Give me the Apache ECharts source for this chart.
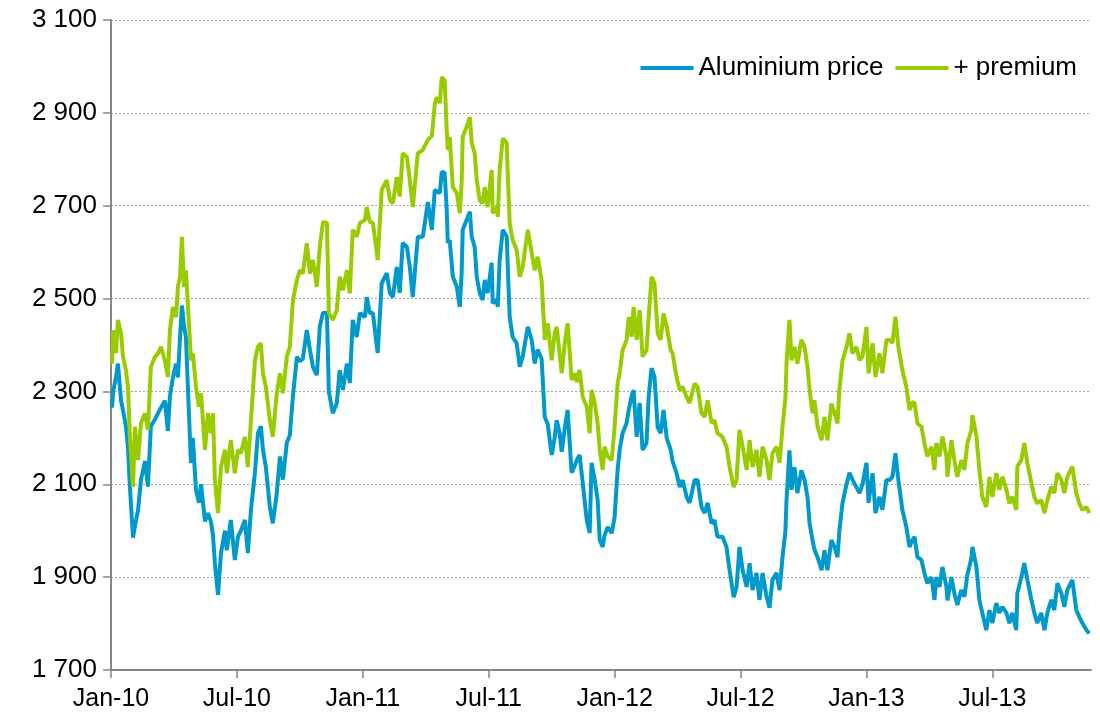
<!DOCTYPE html>
<html lang="en">
<head>
    <meta charset="UTF-8">
    <title>Aluminium price and premium</title>
    <script src="https://cdn.jsdelivr.net/npm/echarts@6/dist/echarts.min.js"></script>
    <style>
        html, body { margin: 0; padding: 0; background: #fff; }
        #chart { width: 1100px; height: 723px; }
    </style>
</head>
<body>
<div id="chart"></div>
<script>
    // x = months since Jan 2010 (0 = Jan-10, 6 = Jul-10 ...)
    const months = [
        0.05,0.10,0.24,0.33,0.48,0.57,0.71,0.81,0.90,1.05,1.14,1.29,1.43,1.62,1.76,1.90,2.10,2.24,2.38,2.57,
        2.71,2.81,2.95,3.10,3.19,3.29,3.38,3.48,3.57,3.67,3.81,3.90,4.05,4.19,4.29,4.48,4.62,4.76,4.86,4.95,
        5.10,5.24,5.43,5.52,5.71,5.90,6.05,6.19,6.38,6.52,6.67,6.86,7.00,7.14,7.24,7.38,7.57,7.71,
        7.90,8.05,8.19,8.38,8.52,8.67,8.86,9.00,9.14,9.33,9.48,9.62,9.81,9.95,10.10,10.29,10.38,10.57,10.76,10.90,
        11.05,11.24,11.38,11.52,11.71,11.86,12.10,12.19,12.33,12.48,12.67,12.71,12.90,13.14,13.29,13.43,13.62,13.76,13.90,14.10,
        14.24,14.38,14.62,14.86,15.10,15.29,15.43,
        15.52,15.67,15.76,15.90,16.00,16.05,16.14,16.29,16.48,16.62,16.71,16.76,16.95,17.10,17.19,17.33,17.43,17.57,17.71,17.81,
        17.95,18.14,18.19,18.38,18.43,18.52,18.67,18.86,18.90,19.00,19.14,19.33,19.48,19.62,19.86,20.05,20.19,20.33,20.52,20.67,
        20.81,21.00,21.14,21.24,21.38,21.48,21.62,21.76,21.95,22.10,
        22.19,22.33,22.48,22.67,22.81,22.90,23.05,23.19,23.29,23.43,
        23.52,23.67,23.86,24.00,24.14,24.24,24.38,24.57,24.67,24.81,
        24.90,25.05,25.19,25.33,25.52,25.62,25.76,25.90,26.05,26.19,
        26.33,26.48,26.67,26.76,26.95,27.10,27.24,27.43,27.57,27.81,
        27.95,28.14,28.29,28.43,28.62,28.76,28.90,29.14,29.33,29.48,
        29.67,29.81,29.95,30.10,30.29,30.43,30.57,30.76,30.90,31.05,
        31.24,31.38,31.52,31.71,31.86,32.00,32.14,32.19,32.33,32.43,
        32.57,32.71,32.90,33.05,33.19,33.29,33.43,33.52,33.67,33.86,
        34.00,34.14,34.33,34.48,34.62,34.71,34.86,35.05,35.19,35.33,
        35.52,35.67,35.81,36.00,36.10,36.29,36.43,36.62,36.76,36.95,
        37.10,37.24,37.38,37.52,37.71,37.90,38.05,38.19,38.29,38.43,
        38.62,38.76,38.90,39.10,39.24,39.33,39.48,39.62,39.81,39.86,
        40.05,40.19,40.33,40.52,40.67,40.81,41.00,41.05,41.24,41.38,
        41.52,41.71,41.86,42.00,42.19,42.33,42.48,42.67,42.81,42.95,
        43.14,43.19,43.38,43.52,43.67,43.86,44.00,44.14,44.33,44.48,
        44.62,44.81,44.95,45.10,45.29,45.43,45.57,45.81,46.00,46.14,
        46.29,46.48,46.62
    ];

    const aluminium = [
        2265,2300,2330,2360,2280,2260,2225,2180,2095,1985,2010,2045,2110,2150,2095,2225,2240,2253,2265,2280,
        2215,2290,2330,2360,2330,2417,2485,2440,2417,2303,2146,2200,2088,2060,2100,2020,2038,2020,1990,1930,
        1862,1952,2000,1958,2023,1937,1987,2000,2023,1952,2045,2125,2210,2225,2175,2137,2051,2016,
        2080,2160,2110,2190,2205,2290,2375,2365,2370,2432,2390,2353,2335,2440,2469,2469,2300,2253,2275,2346,
        2303,2360,2318,2454,2417,2469,2460,2503,2469,2469,2396,2383,2533,2555,2512,2503,2568,2512,2620,2611,
        2568,2503,2633,2633,2708,2648,2734,
        2734,2727,2773,2771,2690,2620,2626,2547,2525,2482,2555,2648,2670,2687,2633,2611,2547,2512,2497,2540,
        2512,2577,2490,2497,2482,2583,2648,2633,2577,2460,2417,2404,2353,2375,2439,2410,2360,2390,2370,2245,
        2230,2163,2200,2238,2210,2170,2220,2260,2125,2140,
        2152,2163,2103,2023,1995,2146,2110,2066,1980,1965,
        1990,2008,1995,2030,2130,2174,2210,2232,2260,2290,
        2303,2202,2275,2174,2189,2288,2350,2331,2223,2210,
        2260,2200,2174,2150,2124,2094,2109,2073,2060,2109,
        2109,2051,2038,2060,2016,2023,1987,1987,1965,1915,
        1857,1879,1965,1915,1879,1930,1872,1909,1851,1909,
        1858,1834,1894,1909,1872,1943,2000,2066,2173,2088,
        2137,2081,2130,2109,2073,2016,1980,1960,1943,1915,
        1958,1915,1980,1965,1943,2000,2060,2100,2125,2110,
        2094,2081,2100,2146,2060,2124,2038,2073,2045,2109,
        2109,2116,2167,2109,2045,2008,1965,1980,1987,1943,
        1937,1909,1887,1900,1851,1900,1879,1922,1879,1850,
        1900,1865,1840,1872,1858,1905,1940,1965,1922,1851,
        1823,1786,1829,1801,1844,1823,1836,1823,1801,1823,
        1786,1865,1900,1930,1894,1851,1823,1801,1823,1786,
        1823,1851,1829,1887,1865,1836,1872,1894,1829,1815,
        1801,1786,1779
    ];

    const premium = [
        2360,2432,2383,2454,2425,2375,2346,2310,2202,2094,2224,2152,2232,2253,2217,2353,2375,2382,2396,2367,
        2331,2432,2482,2460,2525,2547,2633,2525,2561,2482,2367,2382,2310,2267,2296,2174,2253,2210,2253,2109,
        2038,2137,2174,2124,2195,2124,2174,2167,2202,2137,2238,2367,2396,2404,2339,2310,2238,2202,
        2296,2339,2296,2375,2396,2497,2540,2561,2554,2619,2554,2583,2525,2611,2665,2663,2469,2454,2475,2547,
        2518,2561,2511,2648,2633,2663,2669,2697,2665,2663,2598,2583,2734,2755,2712,2705,2762,2720,2813,2805,
        2755,2697,2813,2820,2842,2850,2920,
        2934,2921,2977,2970,2860,2820,2848,2740,2727,2684,2749,2848,2870,2891,2835,2813,2755,2712,2705,2740,
        2697,2777,2684,2697,2676,2777,2845,2835,2777,2662,2626,2605,2547,2568,2648,2598,2561,2590,2540,2411,
        2447,2367,2425,2439,2380,2339,2404,2447,2325,2339,
        2320,2346,2288,2267,2210,2303,2275,2232,2174,2131,
        2181,2160,2152,2224,2317,2340,2389,2411,2460,2418,
        2482,2411,2475,2375,2389,2460,2547,2533,2425,2411,
        2468,2440,2389,2382,2331,2303,2310,2288,2275,2317,
        2310,2253,2245,2281,2232,2238,2210,2202,2181,2137,
        2094,2109,2217,2181,2131,2195,2137,2174,2116,2181,
        2152,2109,2167,2181,2146,2224,2288,2360,2454,2367,
        2396,2360,2411,2396,2353,2303,2253,2281,2224,2195,
        2245,2195,2274,2253,2231,2303,2367,2396,2425,2382,
        2396,2367,2375,2439,2339,2404,2331,2382,2339,2411,
        2411,2404,2461,2396,2346,2310,2260,2277,2275,2231,
        2224,2189,2160,2181,2131,2189,2160,2203,2160,2116,
        2195,2152,2116,2152,2131,2189,2217,2249,2203,2131,
        2073,2051,2116,2073,2124,2088,2116,2088,2059,2073,
        2045,2138,2152,2189,2145,2103,2073,2059,2066,2038,
        2066,2095,2081,2124,2109,2081,2116,2138,2081,2059,
        2045,2051,2038
    ];

    const tickMonths = [0, 6, 12, 18, 24, 30, 36, 42];
    const monthNames = ['Jan', 'Jul'];
    const seriesNames = ['Aluminium price', '+ premium'];
    const colors = ['#0099cc', '#99cc00'];

    const fontFamily = 'Arial, "Liberation Sans", sans-serif';

    function monthLabel(m) {
        const yr = 10 + Math.floor(m / 12);
        return monthNames[(m % 12) / 6] + '-' + yr;
    }

    function thousands(v) {
        return String(v).replace(/\B(?=(\d{3})+(?!\d))/g, ' ');
    }

    const chart = echarts.init(document.getElementById('chart'), null, { renderer: 'canvas' });

    const option = {
        animation: false,
        backgroundColor: '#fff',
        color: colors,
        grid: {
            left: 111,
            right: 9,
            top: 20,
            bottom: 53,
            containLabel: false,
            outerBoundsMode: 'none'
        },
        legend: {
            right: 18,
            top: 50,
            icon: 'rect',
            itemWidth: 53,
            itemHeight: 4,
            itemGap: 12,
            textStyle: { fontSize: 26, color: '#000', fontFamily: fontFamily },
            data: seriesNames
        },
        xAxis: {
            type: 'value',
            min: 0,
            max: 46.7,
            interval: 6,
            axisLine: { show: true, onZero: false, lineStyle: { color: '#868686', width: 2 } },
            axisTick: { show: true, length: 8, customValues: tickMonths, lineStyle: { color: '#868686', width: 1.5 } },
            axisLabel: {
                customValues: tickMonths,
                formatter: monthLabel,
                fontSize: 25,
                color: '#000',
                fontFamily: fontFamily,
                margin: 17
            },
            splitLine: { show: false }
        },
        yAxis: {
            type: 'value',
            min: 1700,
            max: 3100,
            interval: 200,
            axisLine: { show: true, lineStyle: { color: '#868686', width: 2 } },
            axisTick: { show: true, length: 8, lineStyle: { color: '#868686', width: 1.5 } },
            axisLabel: {
                formatter: thousands,
                fontSize: 26,
                color: '#000',
                fontFamily: fontFamily,
                margin: 14
            },
            splitLine: { show: true, lineStyle: { color: '#a6a6a6', type: [2, 2], width: 1 } }
        },
        series: [
            {
                name: seriesNames[0],
                type: 'line',
                showSymbol: false,
                lineStyle: { width: 4, color: colors[0] },
                itemStyle: { color: colors[0] },
                data: months.map((m, i) => [m, aluminium[i]])
            },
            {
                name: seriesNames[1],
                type: 'line',
                showSymbol: false,
                lineStyle: { width: 4, color: colors[1] },
                itemStyle: { color: colors[1] },
                data: months.map((m, i) => [m, premium[i]])
            }
        ]
    };

    chart.setOption(option);
</script>
</body>
</html>
